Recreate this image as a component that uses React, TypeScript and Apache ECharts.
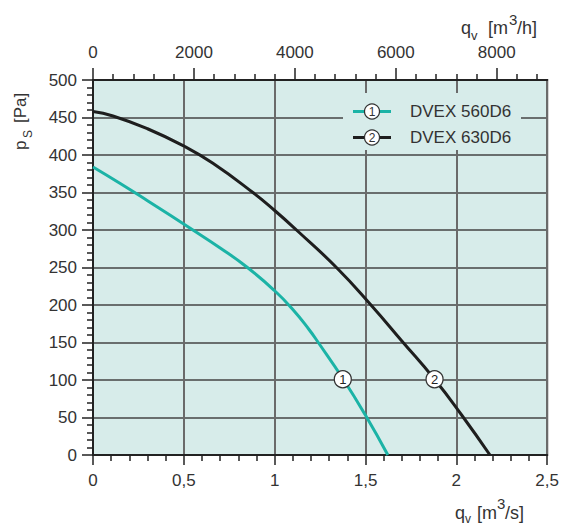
import React, { useEffect, useRef } from 'react';
import * as echarts from 'echarts';

// ---- data ----
const seriesNames = ['DVEX 560D6', 'DVEX 630D6'];
const markerLabels = ['1', '2'];

const curve1Q = [0, 0.15, 0.3, 0.55, 0.7, 0.85, 1.0, 1.1, 1.19, 1.24, 1.375, 1.5, 1.623];
const curve1P = [384, 362, 339, 300, 276, 250, 219, 194, 167, 150, 102, 53, 0];

const curve2Q = [0, 0.11, 0.3, 0.5, 0.66, 0.88, 1.0, 1.12, 1.34, 1.53, 1.7, 1.88, 2.03, 2.185];
const curve2P = [458, 452, 435, 412, 389, 350, 326, 300, 250, 200, 152, 101, 53, 0];

const markerQ = [1.375, 1.88];
const markerP = [101, 101];

const topMajorTicks = [0, 2000, 4000, 6000, 8000];
const topMinorTicks = [400, 800, 1200, 1600, 2400, 2800, 3200, 3600, 4400, 4800, 5200, 5600, 6400, 6800, 7200, 7600, 8400, 8800];

// ---- styles ----
const FONT = '"Liberation Sans", Arial, sans-serif';
const TXT = '#333';
const BG = '#d7ecea';
const colors = ['#1bb3a6', '#1e1e1e'];

const legendRows = [111.5, 137.5];

export default function App() {
  const ref = useRef<HTMLDivElement>(null);
  useEffect(() => {
    if (!ref.current) return;
    const chart = echarts.init(ref.current, null, { renderer: 'svg' });
    const curves = [
      curve1Q.map((q, i) => [q, curve1P[i]]),
      curve2Q.map((q, i) => [q, curve2P[i]]),
    ];
    const txt = (text: string, x: number, y: number, size: number, align = 'left') => ({
      type: 'text',
      x,
      y,
      z: 100,
      style: {
        text,
        font: `${size}px ${FONT}`,
        fill: TXT,
        textAlign: align,
        textVerticalAlign: 'middle',
      },
    });
    const legendGraphics: any[] = [
      { type: 'rect', z: 90, shape: { x: 343, y: 93, width: 178, height: 57 }, style: { fill: BG } },
    ];
    seriesNames.forEach((name, i) => {
      const y = legendRows[i];
      legendGraphics.push({
        type: 'line', z: 95,
        shape: { x1: 353, y1: y, x2: 391, y2: y },
        style: { stroke: colors[i], lineWidth: 3 },
      });
      legendGraphics.push({
        type: 'circle', z: 96,
        shape: { cx: 372, cy: y, r: 7.5 },
        style: { fill: '#fff', stroke: '#333', lineWidth: 1.2 },
      });
      legendGraphics.push(txt(markerLabels[i], 372, y + 0.5, 12, 'center'));
      legendGraphics.push(txt(name, 410, y, 17));
    });

    const option: any = {
      animation: false,
      grid: {
        left: 93, top: 80, width: 455, height: 375,
        show: true, backgroundColor: BG, borderColor: '#222', borderWidth: 2,
      },
      xAxis: [
        {
          type: 'value', position: 'bottom', min: 0, max: 2.5, interval: 0.5,
          axisLine: { show: true, lineStyle: { color: '#222', width: 2 } },
          axisTick: { show: true, length: 10, lineStyle: { color: '#222', width: 1.5 } },
          minorTick: { show: true, splitNumber: 5, length: 6, lineStyle: { color: '#222', width: 1.5 } },
          splitLine: { show: true, lineStyle: { color: '#6a6a6a', width: 2 } },
          axisLabel: {
            margin: 17, fontSize: 17, fontFamily: FONT, color: TXT,
            formatter: (v: number) => String(v).replace('.', ','),
          },
        },
        {
          type: 'value', position: 'top', min: 0, max: 9000,
          axisLine: { show: true, lineStyle: { color: '#222', width: 2 } },
          axisTick: { show: true, length: 12, customValues: topMajorTicks, lineStyle: { color: '#222', width: 1.5 } },
          splitLine: { show: false },
          axisLabel: {
            margin: 19, fontSize: 17, fontFamily: FONT, color: TXT,
            customValues: topMajorTicks,
            formatter: (v: number) => String(v),
          },
        },
        {
          type: 'value', position: 'top', min: 0, max: 9000,
          axisLine: { show: false },
          axisTick: { show: true, length: 6, customValues: topMinorTicks, lineStyle: { color: '#222', width: 1.5 } },
          splitLine: { show: false },
          axisLabel: { show: false },
        },
      ],
      yAxis: {
        type: 'value', min: 0, max: 500, interval: 50,
        axisLine: { show: true, lineStyle: { color: '#222', width: 2 } },
        axisTick: { show: true, length: 11, lineStyle: { color: '#222', width: 1.5 } },
        minorTick: { show: true, splitNumber: 5, length: 6, lineStyle: { color: '#222', width: 1.5 } },
        splitLine: { show: true, lineStyle: { color: '#444', width: 1.5 } },
        axisLabel: { margin: 16, fontSize: 17, fontFamily: FONT, color: TXT },
      },
      series: seriesNames.map((name, i) => ({
        name,
        type: 'line',
        xAxisIndex: 0,
        yAxisIndex: 0,
        data: curves[i],
        smooth: 0.5,
        showSymbol: false,
        lineStyle: { color: colors[i], width: 3 },
        itemStyle: { color: colors[i] },
        z: 3,
        markPoint: {
          symbol: 'circle',
          symbolSize: 17,
          itemStyle: { color: '#fff', borderColor: '#333', borderWidth: 1.2 },
          label: { show: true, position: 'inside', color: '#222', fontSize: 13, fontFamily: FONT, formatter: markerLabels[i] },
          data: [{ coord: [markerQ[i], markerP[i]] }],
        },
      })),
      graphic: [
        ...legendGraphics,
        // top axis name
        txt('q', 461, 28, 18),
        txt('v', 471, 35, 13),
        txt('[m', 488, 28, 18),
        txt('3', 509, 19, 15),
        txt('/h]', 517, 28, 18),
        // bottom axis name
        txt('q', 455, 513, 18),
        txt('v', 465, 519, 12),
        txt('[m', 477, 513, 18),
        txt('3', 497, 503, 15),
        txt('/s]', 505, 513, 18),
        // y axis name
        {
          type: 'group', x: 20, y: 150, rotation: Math.PI / 2, z: 100,
          children: [
            txt('p', 0, 0, 17),
            txt('S', 12, 8, 12),
            txt('[Pa]', 27, 0, 17),
          ],
        },
      ],
    };
    chart.setOption(option);
    return () => chart.dispose();
  }, []);
  return (
    <div
      ref={ref}
      style={{ position: 'absolute', left: 0, top: 0, width: 562, height: 525 }}
    />
  );
}
